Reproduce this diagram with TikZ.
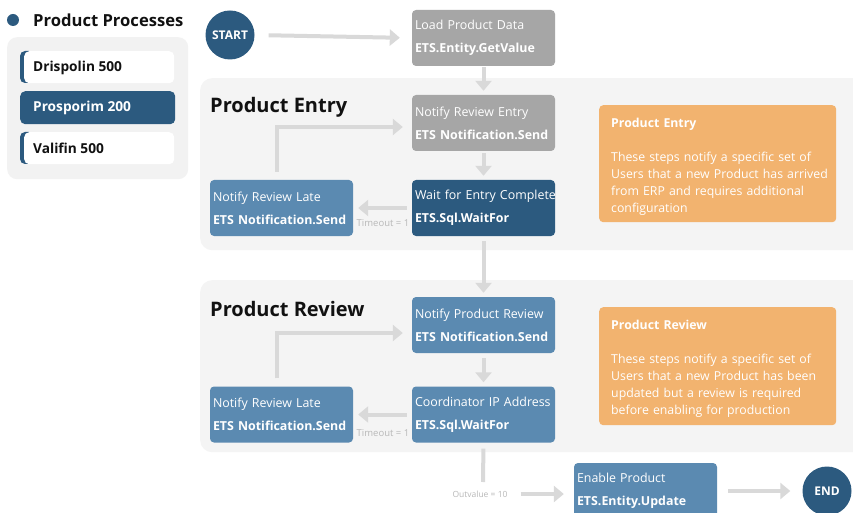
\documentclass[tikz,border=0pt]{standalone}
\usepackage{fontspec}
\setmainfont{Open Sans}
\usetikzlibrary{arrows.meta}
\definecolor{dblue}{HTML}{2C5A7F}
\definecolor{mblue}{HTML}{5B8AB1}
\definecolor{gbox}{HTML}{A6A6A6}
\definecolor{arr}{HTML}{D9D9D9}
\definecolor{orng}{HTML}{F2B36F}
\definecolor{sect}{HTML}{F4F4F4}
\definecolor{panel}{HTML}{F2F2F2}
\definecolor{lbl}{HTML}{B8B8B8}
\definecolor{ink}{HTML}{111111}
\begin{document}
\begin{tikzpicture}[x=1pt,y=-1pt,
  stepbox/.style={rounded corners=4pt, minimum width=143pt, minimum height=56pt,
    text width=137pt, align=left, text=white, inner xsep=3pt, inner ysep=4pt,
    font=\fontsize{12.4}{23}\selectfont},
  graybox/.style={stepbox, fill=gbox},
  darkbox/.style={stepbox, fill=dblue},
  midbox/.style={stepbox, fill=mblue},
  termnode/.style={circle, fill=dblue, minimum size=49pt, inner sep=0pt, text=white,
    font=\fontsize{12}{14}\selectfont\bfseries},
  flow/.style={draw=arr, line width=4pt, -{Triangle[length=10pt,width=16pt]}},
  plainflow/.style={draw=arr, line width=4pt},
  section/.style={fill=sect, rounded corners=12pt, anchor=north west, inner sep=0pt},
  sectitle/.style={anchor=west, text=ink, inner sep=0pt, font=\fontsize{20}{24}\selectfont\bfseries},
  notebg/.style={fill=orng, rounded corners=4pt, anchor=north west, minimum width=237pt, inner sep=0pt},
  notetext/.style={anchor=west, text width=225pt, inner sep=0pt, align=left, text=white,
    font=\fontsize{12.3}{17}\selectfont},
  edgelabel/.style={text=lbl, font=\fontsize{9.5}{10}\selectfont, inner sep=0pt},
  itemtext/.style={anchor=west, font=\fontsize{13.7}{16}\selectfont\bfseries, inner sep=0pt}
]
\useasboundingbox (0,0) rectangle (853,513);
\clip (0,0) rectangle (853,513);
\fill[white] (0,0) rectangle (853,513);

% left panel
\node[circle, fill=dblue, minimum size=12pt, inner sep=0pt] (bullet) at (13,20) {};
\node[anchor=west, inner sep=0pt, text=ink, font=\fontsize{16.6}{20}\selectfont\bfseries] (ptitle) at (33,20) {Product Processes};
\node[fill=panel, rounded corners=10pt, anchor=north west, minimum width=181pt, minimum height=142pt, inner sep=0pt] (panel) at (7,37) {};
\fill[dblue, rounded corners=5pt] (20,51) rectangle (34,83);
\node[fill=white, rounded corners=5pt, anchor=north west, minimum width=150pt, minimum height=32pt, inner sep=0pt] (i1) at (24,51) {};
\node[itemtext, text=ink] (t1) at (33,67.5) {Drispolin 500};
\node[fill=dblue, rounded corners=5pt, anchor=north west, minimum width=155pt, minimum height=33pt, inner sep=0pt] (i2) at (20,91) {};
\node[itemtext, text=white] (t2) at (33,108) {Prosporim 200};
\fill[dblue, rounded corners=5pt] (20,132) rectangle (34,164);
\node[fill=white, rounded corners=5pt, anchor=north west, minimum width=150pt, minimum height=32pt, inner sep=0pt] (i3) at (24,132) {};
\node[itemtext, text=ink] (t3) at (33,148.5) {Valifin 500};

% sections
\node[section, minimum width=680pt, minimum height=172pt] (sec1) at (200,78) {};
\node[section, minimum width=680pt, minimum height=172pt] (sec2) at (200,280) {};
\node[sectitle] (st1) at (210,107) {Product Entry};
\node[sectitle] (st2) at (210,309) {Product Review};

% flow nodes
\node[termnode] (start) at (230,35) {START};
\node[graybox] (lpd) at (483.5,38) {Load Product Data\\\textbf{ETS.Entity.GetValue}};
\node[graybox] (nre) at (483.5,123) {Notify Review Entry\\\textbf{ETS Notification.Send}};
\node[darkbox] (wec) at (483.5,208) {\mbox{Wait for Entry Complete}\\\textbf{ETS.Sql.WaitFor}};
\node[midbox] (nrl1) at (281.5,208) {Notify Review Late\\\textbf{ETS Notification.Send}};
\node[midbox] (npr) at (483.5,325) {Notify Product Review\\\textbf{ETS Notification.Send}};
\node[midbox] (cip) at (483.5,414.5) {\mbox{Coordinator IP Address}\\\textbf{ETS.Sql.WaitFor}};
\node[midbox] (nrl2) at (281.5,414.5) {Notify Review Late\\\textbf{ETS Notification.Send}};
\node[midbox] (ep) at (645.5,491) {Enable Product\\\textbf{ETS.Entity.Update}};
\node[termnode] (end) at (827,491) {END};

% notes
\node[notebg, minimum height=117pt] (note1) at (599,105) {};
\node[notetext] (note1t) at (611,167) {\textbf{Product Entry}\\[17pt]\mbox{These steps notify a specific set of}\\\mbox{Users that a new Product has arrived}\\\mbox{from ERP and requires additional}\\\mbox{configuration}};
\node[notebg, minimum height=118pt] (note2) at (599,307) {};
\node[notetext] (note2t) at (611,369) {\textbf{Product Review}\\[17pt]\mbox{These steps notify a specific set of}\\\mbox{Users that a new Product has been}\\\mbox{updated but a review is required}\\\mbox{before enabling for production}};

% connectors
\draw[flow, shorten <=14pt, shorten >=12pt] (start.east) -- (lpd.west);
\draw[flow, shorten <=1pt, shorten >=4pt] (lpd.south) -- (nre.north);
\draw[flow, shorten <=2pt, shorten >=4pt] (nre.south) -- (wec.north);
\draw[flow, shorten <=5pt, shorten >=4pt] (wec.south) -- (npr.north);
\draw[flow, shorten <=5pt, shorten >=4pt] (npr.south) -- (cip.north);
\draw[flow, shorten <=5pt, shorten >=5pt] (wec.west) -- (nrl1.east);
\draw[flow, shorten <=5pt, shorten >=5pt] (cip.west) -- (nrl2.east);
\node[edgelabel] (to1) at (383,223) {Timeout = 1};
\node[edgelabel] (to2) at (383,433) {Timeout = 1};
\draw[flow, shorten <=8pt, shorten >=9pt] ([xshift=-5pt]nrl1.north) |- ([yshift=-4pt]nre.west);
\draw[flow, shorten <=8pt, shorten >=9pt] ([xshift=-5pt]nrl2.north) |- ([yshift=-8pt]npr.west);
\coordinate (ovc) at (483,482);
\draw[plainflow, shorten <=6pt] (cip.south) -- (ovc);
\node[edgelabel, font=\fontsize{8.5}{10}\selectfont] (ovl) at (480,494) {Outvalue = 10};
\draw[flow, shorten <=13pt, shorten >=10pt] (ovl.east) -- (ep.west |- ovl.east);
\draw[flow, shorten <=11pt, shorten >=12pt] (ep.east) -- (end.west);
\end{tikzpicture}
\end{document}
